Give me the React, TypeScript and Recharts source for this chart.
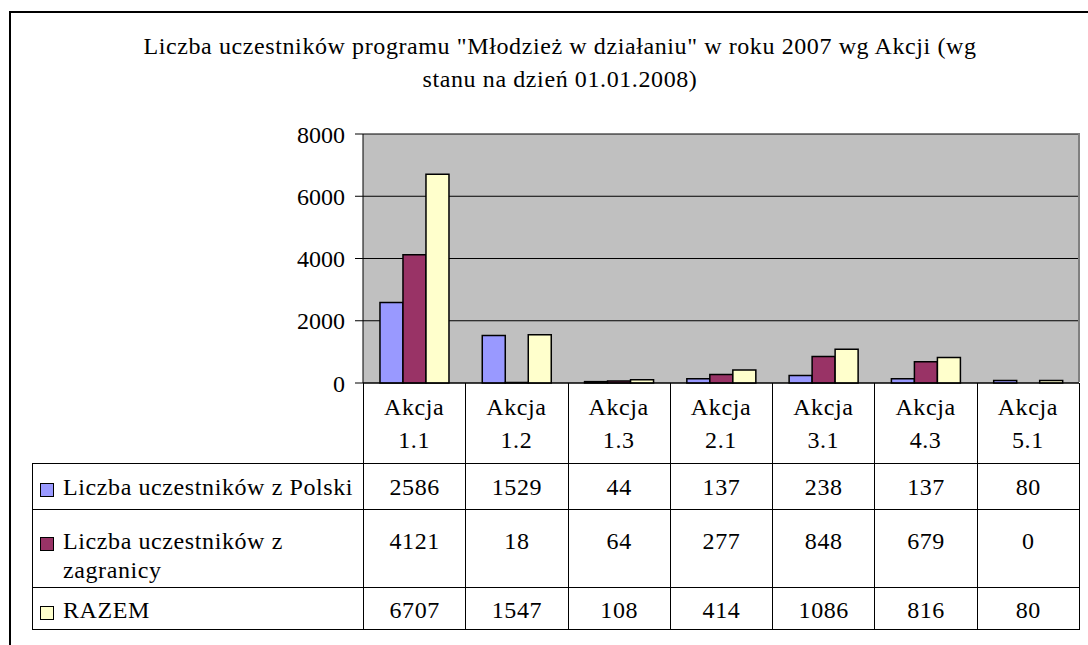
import React from "react";
import { Bar, BarChart, CartesianGrid, XAxis, YAxis } from "recharts";

const FONT = "Liberation Serif";

const TITLE =
  'Liczba uczestników programu "Młodzież w działaniu" w roku 2007 wg Akcji (wg stanu na dzień 01.01.2008)';

const CATEGORIES = ["Akcja 1.1", "Akcja 1.2", "Akcja 1.3", "Akcja 2.1", "Akcja 3.1", "Akcja 4.3", "Akcja 5.1"];
const Z_POLSKI = [2586, 1529, 44, 137, 238, 137, 80];
const Z_ZAGRANICY = [4121, 18, 64, 277, 848, 679, 0];
const RAZEM = [6707, 1547, 108, 414, 1086, 816, 80];
const Y_TICKS = [0, 2000, 4000, 6000, 8000];

const SERIES = [
  { key: "polska", name: "Liczba uczestników z Polski", values: Z_POLSKI },
  { key: "zagranica", name: "Liczba uczestników z zagranicy", values: Z_ZAGRANICY },
  { key: "razem", name: "RAZEM", values: RAZEM },
];
const COLORS = ["#9999FF", "#993366", "#FFFFCC"];

const data = CATEGORIES.map((name, i) => {
  const row: Record<string, string | number> = { name };
  SERIES.forEach((s) => (row[s.key] = s.values[i]));
  return row;
});

// layout (page pixels)
const PLOT_LEFT = 363;
const PLOT_RIGHT = 1079;
const PLOT_TOP = 134;
const PLOT_BOTTOM = 383;
const HEADER_H = 80;
const ROW_HEIGHTS = [46, 78, 42];
const ROW_PAD = [9, 17, 8];

function CategoryTick({ x, y, payload }: any) {
  const [word, num] = String(payload.value).split(" ");
  return (
    <text x={x} y={y} textAnchor="middle" fontFamily={FONT} fontSize={24} fill="#000" letterSpacing={0.6}>
      <tspan x={x} dy={32}>{word}</tspan>
      <tspan x={x} dy={33}>{num}</tspan>
    </text>
  );
}

export default function App() {
  const colW = (PLOT_RIGHT - PLOT_LEFT) / CATEGORIES.length;
  const cell: React.CSSProperties = { border: "1px solid #000", padding: 0, verticalAlign: "top" };

  return (
    <div
      style={{
        position: "fixed",
        left: 0,
        top: 0,
        width: 1088,
        height: 645,
        overflow: "hidden",
        background: "#fff",
        fontFamily: FONT,
        color: "#000",
      }}
    >
      {/* chart frame, cut off at right and bottom */}
      <div
        style={{
          position: "absolute",
          left: 9,
          top: 11,
          width: 1200,
          height: 800,
          borderTop: "2px solid #000",
          borderLeft: "2px solid #000",
        }}
      />

      <div
        style={{
          position: "absolute",
          left: 140,
          top: 30,
          width: 840,
          textAlign: "center",
          fontFamily: FONT,
          fontSize: 24,
          lineHeight: "33px",
          letterSpacing: 0.6,
        }}
      >
        {TITLE}
      </div>

      {/* data table */}
      <table
        style={{
          position: "absolute",
          left: 32,
          top: PLOT_BOTTOM,
          width: PLOT_RIGHT - 32,
          borderCollapse: "collapse",
          tableLayout: "fixed",
          fontFamily: FONT,
          fontSize: 24,
          letterSpacing: 0.6,
          lineHeight: "29px",
        }}
      >
        <colgroup>
          <col style={{ width: PLOT_LEFT - 32 }} />
          {CATEGORIES.map((c) => (
            <col key={c} style={{ width: colW }} />
          ))}
        </colgroup>
        <tbody>
          <tr style={{ height: HEADER_H }}>
            <td style={{ padding: 0 }} />
            {CATEGORIES.map((c) => (
              <td key={c} style={{ ...cell, borderTop: "none" }} />
            ))}
          </tr>
          {SERIES.map((s, i) => (
            <tr key={s.key} style={{ height: ROW_HEIGHTS[i] }}>
              <td style={{ ...cell, paddingTop: ROW_PAD[i], paddingLeft: 7 }}>
                <div style={{ display: "flex", alignItems: "flex-start" }}>
                  <span
                    style={{
                      flex: "none",
                      width: 12,
                      height: 12,
                      marginTop: 10,
                      marginRight: 9,
                      border: "1px solid #000",
                      background: COLORS[i],
                    }}
                  />
                  <span>{s.name}</span>
                </div>
              </td>
              {s.values.map((v, j) => (
                <td key={j} style={{ ...cell, paddingTop: ROW_PAD[i], textAlign: "center" }}>
                  {v}
                </td>
              ))}
            </tr>
          ))}
        </tbody>
      </table>

      <div style={{ position: "absolute", left: 0, top: 0 }}>
        <BarChart
          width={1088}
          height={PLOT_BOTTOM + HEADER_H}
          data={data}
          margin={{ top: PLOT_TOP, right: 1088 - PLOT_RIGHT, bottom: 0, left: PLOT_LEFT - 80 }}
          barCategoryGap="16.6%"
          barGap={0}
        >
          <CartesianGrid vertical={false} stroke="#000" fill="#C0C0C0" fillOpacity={1} />
          <XAxis
            dataKey="name"
            height={HEADER_H}
            interval={0}
            tickLine={false}
            tickSize={0}
            tickMargin={0}
            axisLine={{ stroke: "#000" }}
            tick={<CategoryTick />}
          />
          <YAxis
            width={80}
            domain={[0, 8000]}
            ticks={Y_TICKS}
            tickSize={8}
            tickMargin={10}
            axisLine={{ stroke: "#000" }}
            tickLine={{ stroke: "#000" }}
            tick={{ fill: "#000", fontSize: 24, fontFamily: FONT }}
          />
          {SERIES.map((s, i) => (
            <Bar
              key={s.key}
              dataKey={s.key}
              name={s.name}
              fill={COLORS[i]}
              stroke="#000"
              strokeWidth={1.5}
              isAnimationActive={false}
            />
          ))}
        </BarChart>
      </div>

      {/* plot area outline (top and right edges) */}
      <div
        style={{
          position: "absolute",
          left: PLOT_LEFT,
          top: PLOT_TOP - 1,
          width: PLOT_RIGHT - PLOT_LEFT + 1,
          height: PLOT_BOTTOM - PLOT_TOP,
          borderTop: "1px solid #808080",
          borderRight: "2px solid #808080",
          boxSizing: "border-box",
          pointerEvents: "none",
        }}
      />
    </div>
  );
}
